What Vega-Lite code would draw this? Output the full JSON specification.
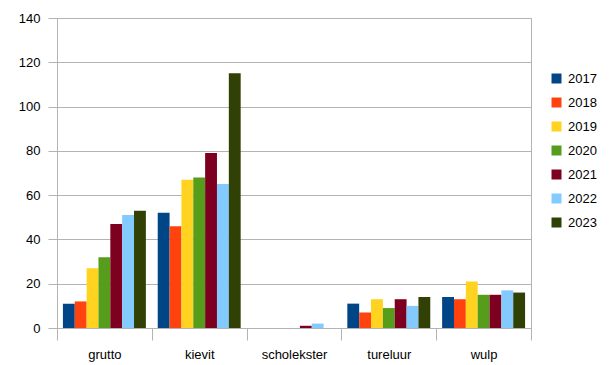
{
  "$schema": "https://vega.github.io/schema/vega-lite/v6.json",
  "autosize": "none",
  "width": 474,
  "height": 310,
  "padding": {"left": 57, "top": 18, "right": 85, "bottom": 37},
  "background": "white",
  "config": {
    "font": "Liberation Sans",
    "view": {"stroke": "#b3b3b3", "strokeWidth": 1}
  },
  "data": {
    "values": [
      {"soort": "grutto", "jaar": "2017", "aantal": 11},
      {"soort": "grutto", "jaar": "2018", "aantal": 12},
      {"soort": "grutto", "jaar": "2019", "aantal": 27},
      {"soort": "grutto", "jaar": "2020", "aantal": 32},
      {"soort": "grutto", "jaar": "2021", "aantal": 47},
      {"soort": "grutto", "jaar": "2022", "aantal": 51},
      {"soort": "grutto", "jaar": "2023", "aantal": 53},
      {"soort": "kievit", "jaar": "2017", "aantal": 52},
      {"soort": "kievit", "jaar": "2018", "aantal": 46},
      {"soort": "kievit", "jaar": "2019", "aantal": 67},
      {"soort": "kievit", "jaar": "2020", "aantal": 68},
      {"soort": "kievit", "jaar": "2021", "aantal": 79},
      {"soort": "kievit", "jaar": "2022", "aantal": 65},
      {"soort": "kievit", "jaar": "2023", "aantal": 115},
      {"soort": "scholekster", "jaar": "2017", "aantal": 0},
      {"soort": "scholekster", "jaar": "2018", "aantal": 0},
      {"soort": "scholekster", "jaar": "2019", "aantal": 0},
      {"soort": "scholekster", "jaar": "2020", "aantal": 0},
      {"soort": "scholekster", "jaar": "2021", "aantal": 1},
      {"soort": "scholekster", "jaar": "2022", "aantal": 2},
      {"soort": "scholekster", "jaar": "2023", "aantal": 0},
      {"soort": "tureluur", "jaar": "2017", "aantal": 11},
      {"soort": "tureluur", "jaar": "2018", "aantal": 7},
      {"soort": "tureluur", "jaar": "2019", "aantal": 13},
      {"soort": "tureluur", "jaar": "2020", "aantal": 9},
      {"soort": "tureluur", "jaar": "2021", "aantal": 13},
      {"soort": "tureluur", "jaar": "2022", "aantal": 10},
      {"soort": "tureluur", "jaar": "2023", "aantal": 14},
      {"soort": "wulp", "jaar": "2017", "aantal": 14},
      {"soort": "wulp", "jaar": "2018", "aantal": 13},
      {"soort": "wulp", "jaar": "2019", "aantal": 21},
      {"soort": "wulp", "jaar": "2020", "aantal": 15},
      {"soort": "wulp", "jaar": "2021", "aantal": 15},
      {"soort": "wulp", "jaar": "2022", "aantal": 17},
      {"soort": "wulp", "jaar": "2023", "aantal": 16}
    ]
  },
  "mark": {"type": "bar"},
  "encoding": {
    "x": {
      "field": "soort",
      "type": "nominal",
      "scale": {"paddingInner": 0, "paddingOuter": 0},
      "axis": {
        "title": null,
        "labelAngle": 0,
        "labelFontSize": 13,
        "labelColor": "#000000",
        "labelPadding": 8,
        "tickBand": "extent",
        "tickSize": 12,
        "tickColor": "#b3b3b3",
        "domainColor": "#b3b3b3",
        "grid": false
      }
    },
    "xOffset": {"field": "jaar", "type": "nominal", "scale": {"paddingInner": 0, "paddingOuter": 0.5}},
    "y": {
      "field": "aantal",
      "type": "quantitative",
      "scale": {"domain": [0, 140], "nice": false},
      "axis": {
        "title": null,
        "values": [0, 20, 40, 60, 80, 100, 120, 140],
        "labelFontSize": 13,
        "labelColor": "#000000",
        "labelPadding": 8,
        "tickSize": 9,
        "tickColor": "#b3b3b3",
        "domainColor": "#b3b3b3",
        "gridColor": "#b3b3b3",
        "gridOpacity": 1
      }
    },
    "color": {
      "field": "jaar",
      "type": "nominal",
      "scale": {
        "domain": ["2017", "2018", "2019", "2020", "2021", "2022", "2023"],
        "range": ["#004586", "#ff420e", "#ffd320", "#579d1c", "#7e0021", "#83caff", "#314004"]
      },
      "legend": {
        "title": null,
        "orient": "none",
        "legendX": 493,
        "legendY": 54,
        "symbolType": "square",
        "symbolSize": 100,
        "symbolStrokeWidth": 0,
        "labelFontSize": 13,
        "labelColor": "#000000",
        "labelOffset": 5,
        "rowPadding": 10
      }
    }
  }
}
